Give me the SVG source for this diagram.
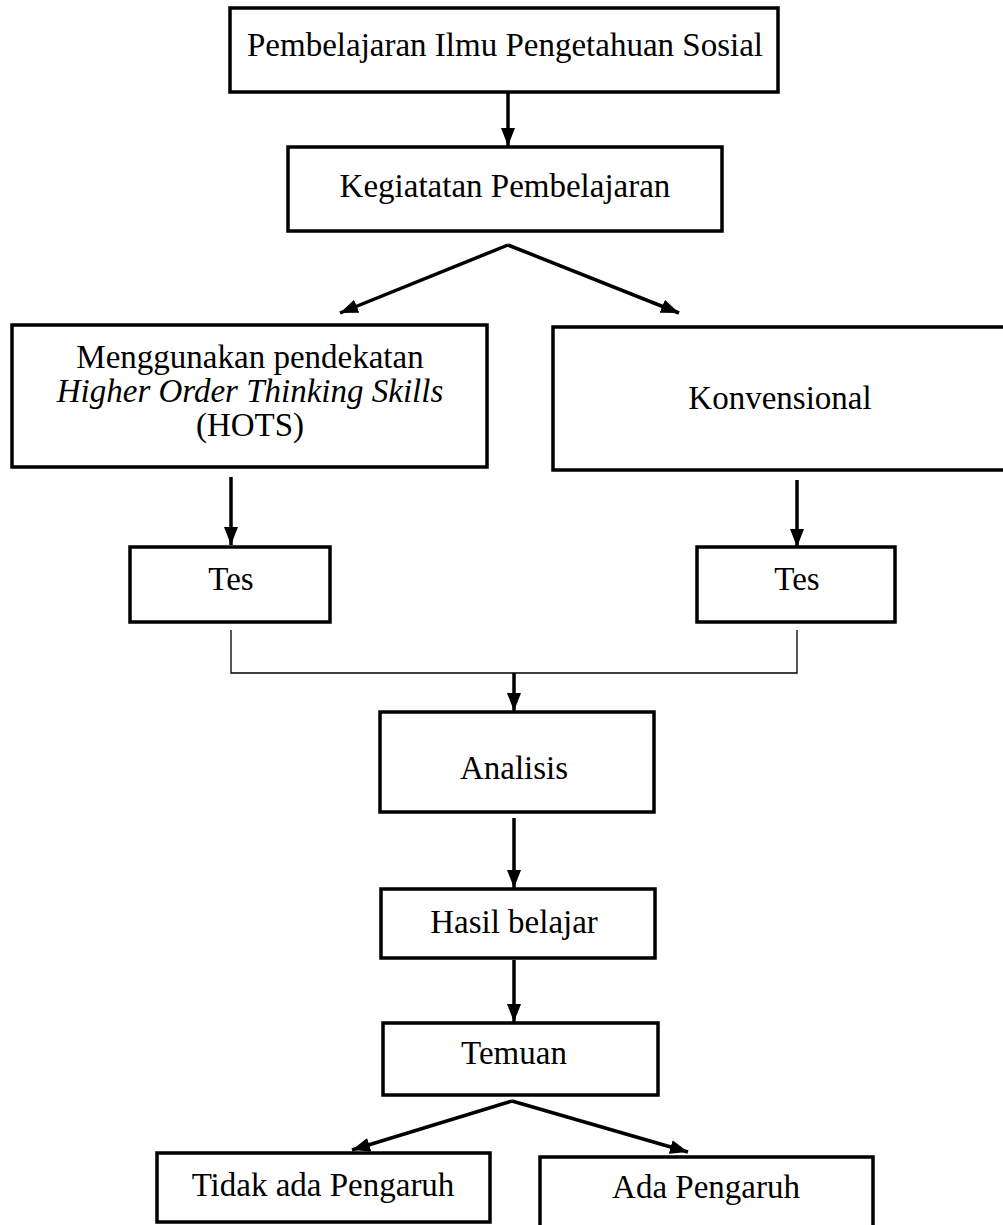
<svg xmlns="http://www.w3.org/2000/svg" width="1003" height="1225" viewBox="0 0 1003 1225">
<style>
.box{fill:#fff;stroke:#000;stroke-width:3.5}
.t{font-family:"Liberation Serif","Times New Roman",serif;font-size:33px;fill:#000;text-anchor:middle}
.i{font-style:italic}
.arr{stroke:#000;stroke-width:3.5;fill:none;marker-end:url(#ah)}
.thin{stroke:#000;stroke-width:1.3;fill:none}
</style>
<defs>
<marker id="ah" markerUnits="userSpaceOnUse" markerWidth="18" markerHeight="16" viewBox="0 0 18 16" refX="18" refY="8" orient="auto">
<path d="M0,1 L18,8 L0,15 Z" fill="#000"/>
</marker>
</defs>
<rect width="1003" height="1225" fill="#fff"/>
<g id="connectors">
<line class="arr" x1="508" y1="92" x2="508" y2="146"/>
<line class="arr" x1="508" y1="245" x2="340" y2="313"/>
<line class="arr" x1="508" y1="245" x2="679" y2="313"/>
<line class="arr" x1="231" y1="477" x2="231" y2="545"/>
<line class="arr" x1="797" y1="480" x2="797" y2="547"/>
<polyline class="thin" points="231,630 231,673 797,673 797,630"/>
<line class="arr" x1="514" y1="673" x2="514" y2="711"/>
<line class="arr" x1="514" y1="818" x2="514" y2="888"/>
<line class="arr" x1="514" y1="960" x2="514" y2="1022"/>
<line class="arr" x1="512" y1="1101" x2="352" y2="1150"/>
<line class="arr" x1="512" y1="1101" x2="688" y2="1152"/>
</g>
<g id="n1"><rect class="box" x="230" y="8" width="548" height="84"/><text class="t" x="505" y="56">Pembelajaran Ilmu Pengetahuan Sosial</text></g>
<g id="n2"><rect class="box" x="288" y="147" width="434" height="84"/><text class="t" x="505" y="197">Kegiatatan Pembelajaran</text></g>
<g id="n3"><rect class="box" x="12" y="325" width="475" height="142"/>
<text class="t" x="250" y="368">Menggunakan pendekatan</text>
<text class="t i" x="250" y="402">Higher Order Thinking Skills</text>
<text class="t" x="250" y="436">(HOTS)</text></g>
<g id="n4"><rect class="box" x="553" y="327" width="470" height="143"/><text class="t" x="780" y="409">Konvensional</text></g>
<g id="n5"><rect class="box" x="130" y="547" width="200" height="75"/><text class="t" x="231" y="590">Tes</text></g>
<g id="n6"><rect class="box" x="697" y="547" width="198" height="75"/><text class="t" x="797" y="590">Tes</text></g>
<g id="n7"><rect class="box" x="380" y="712" width="274" height="100"/><text class="t" x="514" y="779">Analisis</text></g>
<g id="n8"><rect class="box" x="381" y="889" width="274" height="69"/><text class="t" x="514" y="933">Hasil belajar</text></g>
<g id="n9"><rect class="box" x="383" y="1023" width="275" height="72"/><text class="t" x="514" y="1064">Temuan</text></g>
<g id="n10"><rect class="box" x="157" y="1153" width="333" height="69"/><text class="t" x="323" y="1196">Tidak ada Pengaruh</text></g>
<g id="n11"><rect class="box" x="540" y="1157" width="333" height="80"/><text class="t" x="706" y="1198">Ada Pengaruh</text></g>
</svg>
